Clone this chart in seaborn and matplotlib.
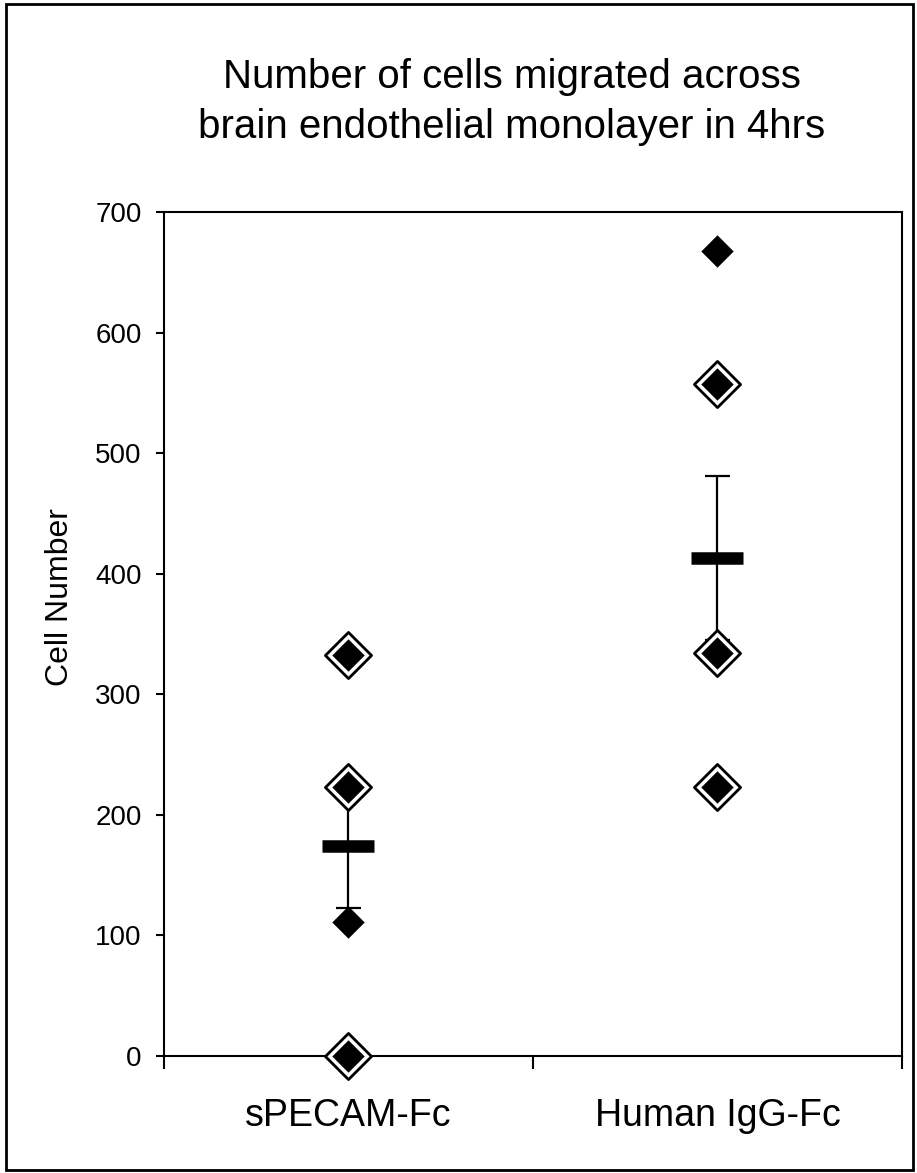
import matplotlib
matplotlib.use("Agg")
import matplotlib.pyplot as plt
import seaborn as sns
import pandas as pd
from matplotlib.patches import Rectangle

# ---- data ----
categories = ["sPECAM-Fc", "Human IgG-Fc"]
specam_values = [333, 223, 111, 0]
human_values = [668, 557, 334, 223]
specam_outlined = [True, True, False, True]
human_outlined = [False, True, True, True]
group_means = [174, 413]
group_sem = [51, 68]
yticks = [0, 100, 200, 300, 400, 500, 600, 700]
title = "Number of cells migrated across\nbrain endothelial monolayer in 4hrs"
ylabel = "Cell Number"

sns.set_theme(style="white")
plt.rcParams["font.family"] = ["Liberation Sans", "DejaVu Sans"]

df = pd.DataFrame({
    "group": [categories[0]] * len(specam_values) + [categories[1]] * len(human_values),
    "cells": specam_values + human_values,
    "outlined": specam_outlined + human_outlined,
})

fig = plt.figure(figsize=(9.17, 11.73), dpi=100)
ax = fig.add_axes([0.1788, 0.0997, 0.8048, 0.7196])

# error bars (mean +/- SEM)
ax.errorbar(range(len(categories)), group_means, yerr=group_sem, fmt="none",
            ecolor="black", elinewidth=1.6, capsize=9, capthick=1.6, zorder=2)

# outlined diamonds: white ring with black border
sns.stripplot(data=df[df["outlined"]], x="group", y="cells", order=categories,
              jitter=False, marker="D", size=23.5, color="white",
              edgecolor="black", linewidth=2, zorder=4, clip_on=False, ax=ax)
# black filled diamonds for all points
sns.stripplot(data=df, x="group", y="cells", order=categories,
              jitter=False, marker="D", size=16.5, color="black",
              linewidth=0, zorder=5, clip_on=False, ax=ax)

# mean bars
ax.plot(range(len(categories)), group_means, ls="none", marker="_",
        ms=37, mew=9, color="black", zorder=3)

ax.set_xlim(-0.5, 1.5)
ax.set_ylim(0, 700)
ax.set_yticks(yticks)
ax.set_xticks(range(len(categories)))
ax.set_xticklabels(categories)
ax.set_xticks([-0.5, 0.5, 1.5], minor=True)
ax.tick_params(axis="x", which="major", length=0, pad=30, labelsize=27, colors="black")
ax.tick_params(axis="x", which="minor", length=9, width=1.5, direction="out",
               color="black", bottom=True)
ax.tick_params(axis="y", which="major", length=6, width=1.5, direction="out",
               left=True, pad=10, labelsize=20, colors="black")
ax.set_xlabel("")
ax.set_ylabel(ylabel, fontsize=23, color="black")
ax.yaxis.set_label_coords(-0.121, 0.544)

for sp in ax.spines.values():
    sp.set_visible(True)
    sp.set_color("black")
    sp.set_linewidth(1.5)

fig.text(0.558, 1 - 58 / 1173, title, ha="center", va="top",
         fontsize=29, color="black", linespacing=1.4)

fig.patches.append(Rectangle((6 / 917, 3 / 1173), 907 / 917, 1166 / 1173,
                             transform=fig.transFigure, fill=False,
                             edgecolor="black", linewidth=2))

fig.savefig("out.png", dpi=100)
